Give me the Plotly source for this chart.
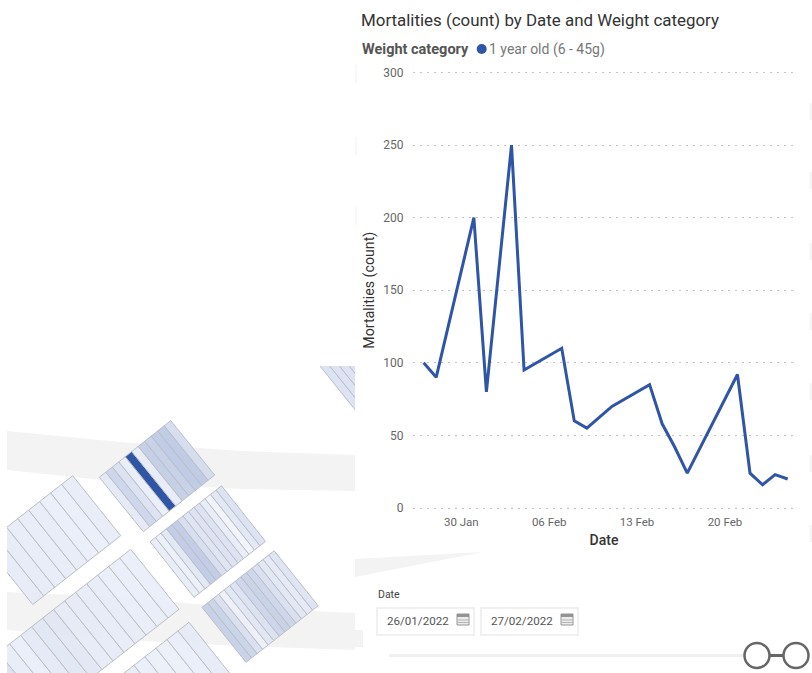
import plotly.graph_objects as go

# Daily mortalities for the one-year-old weight category
dates = ["2022-01-27", "2022-01-28", "2022-01-31", "2022-02-01", "2022-02-03",
         "2022-02-04", "2022-02-07", "2022-02-08", "2022-02-09", "2022-02-11",
         "2022-02-14", "2022-02-15", "2022-02-16", "2022-02-17", "2022-02-21",
         "2022-02-22", "2022-02-23", "2022-02-24", "2022-02-25"]
mortalities = [100, 90, 200, 80, 250, 95, 110, 60, 55, 70, 85, 58, 42, 24, 92, 24, 16, 23, 20]
date_ticks = ["2022-01-30", "2022-02-06", "2022-02-13", "2022-02-20"]
date_tick_labels = ["30 Jan", "06 Feb", "13 Feb", "20 Feb"]
count_ticks = [0, 50, 100, 150, 200, 250, 300]

# Relative mortality shading for each raceway strip on the site map
pen_a = [.07, .20, .12, .04, 1, .05, .25, .24, .28, .28, .16]
pen_b = [.05, .03, .09, .27, .27, .15, .11, .12, .12, .05, 0, .09, .12]
pen_c = [.24, .21, .13, .02, .09, .12, .20, .23, .20, .13, .09, .07, .11]
pen_d = [.06, .06, .05, .05, .05, .04, .04, .05]
pen_e = [.08, .12, .05, .04, .07, .09, .08, .06, .06, .05, .05, .04, .04, .04]
pen_f = [.05, .04, .03, .03, .04, .06]
pen_g = [.12] * 12

PAGE_W, PAGE_H = 812, 673
BLUE = "#2f55a6"
FONT = "Roboto"


def frac_x(px):
    return px / PAGE_W


def frac_y(py):
    return 1 - py / PAGE_H


def shade(v):
    lo, hi = (240, 243, 251), (47, 85, 166)
    r, g, b = (round(a + (c - a) * v) for a, c in zip(lo, hi))
    alpha = 1 if v >= 1 else 0.9
    return f"rgba({r},{g},{b},{alpha})"


fig = go.Figure()

# Main line chart
fig.add_trace(go.Scatter(
    x=dates, y=mortalities, mode="lines", name="1 year old (6 - 45g)",
    line=dict(color=BLUE, width=3, shape="linear"), showlegend=False,
))

# Site map, clipped to its own panel: grey roads first, raceways on top
roads = [
    ([7, 120, 240, 355, 355, 240, 120, 7], [431, 442, 451, 455, 491, 489, 482, 470]),
    ([7, 120, 240, 355, 355, 240, 120, 7], [592, 597, 608, 613, 650, 646, 640, 630]),
]
for rx, ry in roads:
    fig.add_trace(go.Scatter(
        x=rx + rx[:1], y=ry + ry[:1], xaxis="x2", yaxis="y2", mode="lines",
        fill="toself", fillcolor="#f3f3f3", line=dict(width=0),
        hoverinfo="skip", showlegend=False,
    ))

# Each block: far corner, vector along the strips, vector across one strip, strip values
blocks = [
    ((99.3, 477.3), (44, 54.4), (6.49, -5.15), pen_a),
    ((150, 541.7), (44, 55.6), (5.5, -4.3), pen_b),
    ((202, 607.3), (44, 55), (5.55, -4.35), pen_c),
    ((-15.3, 544.5), (48, 60), (11, -8.6), pen_d),
    ((-23.3, 669.7), (48.3, 60), (11, -8.6), pen_e),
    ((123, 673.9), (48, 60), (11, -8.6), pen_f),
    ((308, 351), (48, 60), (5.95, -4.72), pen_g),
]
for (ox, oy), (ax, ay), (cx, cy), values in blocks:
    for i, v in enumerate(values):
        x0, y0 = ox + i * cx, oy + i * cy
        xs = [x0, x0 + ax, x0 + ax + cx, x0 + cx, x0]
        ys = [y0, y0 + ay, y0 + ay + cy, y0 + cy, y0]
        fig.add_trace(go.Scatter(
            x=xs, y=ys, xaxis="x2", yaxis="y2", mode="lines", fill="toself",
            fillcolor=shade(v), line=dict(color="#bcbec3", width=1),
            hoverinfo="skip", showlegend=False,
        ))


def rect(x0, y0, x1, y1, fill="rgba(0,0,0,0)", line="rgba(0,0,0,0)", width=0):
    return dict(type="rect", xref="x3", yref="y3", x0=x0, y0=y0, x1=x1, y1=y1,
                fillcolor=fill, line=dict(color=line, width=width), layer="above")


def circle(cx, cy, r, fill, line="rgba(0,0,0,0)", width=0):
    return dict(type="circle", xref="x3", yref="y3", x0=cx - r, y0=cy - r, x1=cx + r, y1=cy + r,
                fillcolor=fill, line=dict(color=line, width=width), layer="above")


def hline(x0, x1, y, color, width):
    return dict(type="line", xref="x3", yref="y3", x0=x0, x1=x1, y0=y, y1=y,
                line=dict(color=color, width=width), layer="above")


def calendar(x, y):
    parts = [rect(x, y, x + 12, y + 11, fill="#ececec", line="#949494", width=1),
             rect(x, y, x + 12, y + 3, fill="#949494"),
             hline(x, x + 12, y + 6, "#b4b4b4", 1),
             hline(x, x + 12, y + 8.5, "#b4b4b4", 1)]
    return parts


shapes = [
    # Road piece showing past the chart panel
    dict(type="path", xref="x3", yref="y3", path="M355,559 L483,552 L355,577 Z",
         fillcolor="#f3f3f3", line=dict(width=0), layer="below"),
    rect(355, 630, 363, 647, fill="#f3f3f3"),
    # Legend swatch
    circle(481.7, 49, 5, BLUE),
    # Date slicer boxes
    rect(377, 608, 474, 635, fill="white", line="#f0f0f0", width=2),
    rect(481, 608, 578, 635, fill="white", line="#f0f0f0", width=2),
    *calendar(457, 614),
    *calendar(561, 614),
    # Date slicer track and handles
    hline(389, 745, 655.5, "#f0f0f0", 3),
    hline(770, 783, 655.5, "#666666", 3),
    circle(757, 655.5, 12.5, "white", "#666666", 2.5),
    circle(796, 655.5, 12.5, "white", "#666666", 2.5),
]
# Faint tabs along the panel edges
for top in (103, 172, 243, 313, 383, 455, 525):
    shapes.append(rect(809.5, top, 812, top + 17, fill="#f5f5f5"))
for top in (65, 137, 207):
    shapes.append(rect(355, top, 356.5, top + 18, fill="#f6f6f6"))


def label(text, x, y, size, color, anchor="left", bold=False):
    return dict(text=f"<b>{text}</b>" if bold else text, xref="x3", yref="y3", x=x, y=y,
                xanchor=anchor, yanchor="middle", showarrow=False,
                font=dict(family=FONT, size=size, color=color))


annotations = [
    label("Weight category", 359.5, 49, 14.5, "#555555", bold=True),
    label("1 year old (6 - 45g)", 487, 49, 14, "#777777"),
    label("Date", 375.5, 594, 10.5, "#444444"),
    label("26/01/2022", 384.5, 621, 11.6, "#555555"),
    label("27/02/2022", 488.5, 621, 11.6, "#555555"),
]

fig.update_layout(
    width=PAGE_W, height=PAGE_H, autosize=False,
    margin=dict(l=0, r=0, t=0, b=0),
    paper_bgcolor="white", plot_bgcolor="rgba(0,0,0,0)",
    showlegend=False,
    font=dict(family=FONT),
    title=dict(text="Mortalities (count) by Date and Weight category",
               xref="paper", yref="paper", x=frac_x(361), y=frac_y(20),
               xanchor="left", yanchor="middle",
               font=dict(family=FONT, size=16.9, color="#333333")),
    xaxis=dict(
        domain=[frac_x(413), frac_x(795)], type="date",
        range=["2022-01-26 03:40", "2022-02-25 14:00"],
        tickmode="array", tickvals=date_ticks, ticktext=date_tick_labels,
        tickfont=dict(size=11.5, color="#666666"), ticks="outside", ticklen=0,
        tickcolor="rgba(0,0,0,0)", showgrid=False, zeroline=False, showline=False,
        title=dict(text="Date", standoff=7, font=dict(size=14, color="#333333", weight=500)),
        automargin=False,
    ),
    yaxis=dict(
        # A little headroom either side so the 0 and 300 gridlines are drawn
        domain=[frac_y(510.9), frac_y(69.6)], range=[-2, 302],
        tickmode="array", tickvals=count_ticks,
        tickfont=dict(size=12, color="#666666"), ticks="outside", ticklen=6,
        tickcolor="rgba(0,0,0,0)", showgrid=True, gridcolor="#c4c4c4", gridwidth=1,
        griddash="1.5px,5.5px", zeroline=False, showline=False,
        title=dict(text="Mortalities (count)", standoff=5, font=dict(size=14.2, color="#333333")),
        automargin=False,
    ),
    xaxis2=dict(domain=[frac_x(7), frac_x(355)], range=[7, 355], visible=False, anchor="y2"),
    yaxis2=dict(domain=[0, frac_y(366)], range=[673, 366], visible=False, anchor="x2"),
    xaxis3=dict(domain=[0, 1], range=[0, PAGE_W], visible=False, anchor="y3"),
    yaxis3=dict(domain=[0, 1], range=[PAGE_H, 0], visible=False, anchor="x3"),
    shapes=shapes,
    annotations=annotations,
)

# Empty trace keeps the full-page overlay axes alive for the slicer furniture
fig.add_trace(go.Scatter(x=[None], y=[None], xaxis="x3", yaxis="y3", showlegend=False, hoverinfo="skip"))

fig.write_html("out.html", config=dict(displayModeBar=False))
